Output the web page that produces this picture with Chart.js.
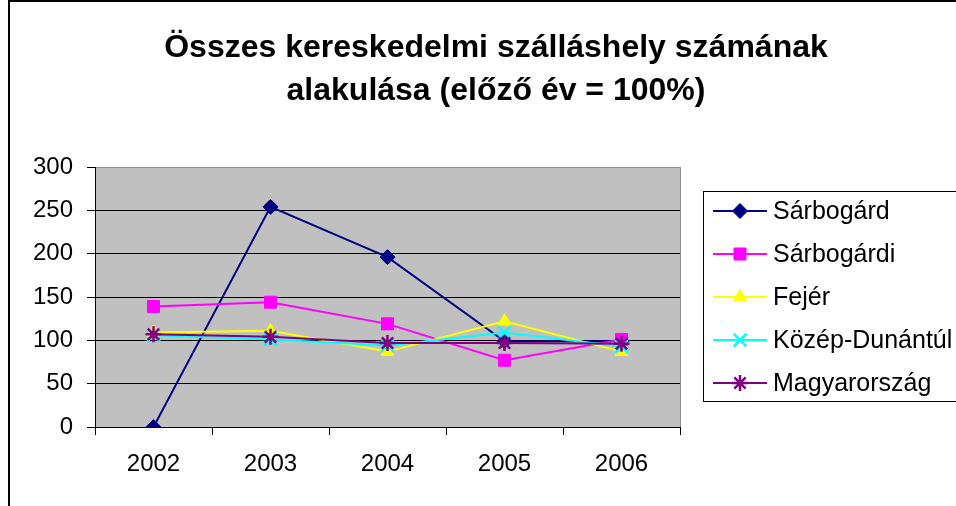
<!DOCTYPE html>
<html>
<head>
<meta charset="utf-8">
<script src="https://cdn.jsdelivr.net/npm/chart.js@4/dist/chart.umd.min.js"></script>
<style>
  body { margin: 0; background: #fff; }
  canvas { display: block; }
</style>
</head>
<body>
<canvas id="chart" width="956" height="506"></canvas>
<script>
const years = ['2002', '2003', '2004', '2005', '2006']
const yTicks = [0, 50, 100, 150, 200, 250, 300]
const titleLines = ['Összes kereskedelmi szálláshely számának', 'alakulása (előző év = 100%)']

const seriesNames = ['Sárbogárd', 'Sárbogárdi', 'Fejér', 'Közép-Dunántúl', 'Magyarország']
const sarbogard = [0, 254, 196, 99, 99]
const sarbogardi = [139, 144, 119, 77, 101]
const fejer = [109, 111, 87, 122, 87]
const kozepDunantul = [106, 101, 94, 109, 93]
const magyarorszag = [107, 104, 97, 97, 96]

const colors = ['#000080', '#FF00FF', '#FFFF00', '#00FFFF', '#800080']
const markers = ['rectRot', 'rect', 'triangle', 'crossRot', 'star']
const FONT = "'Liberation Sans', Arial, sans-serif"

const values = [sarbogard, sarbogardi, fejer, kozepDunantul, magyarorszag]

const radiusFor = m => ({ rectRot: 7.5, rect: 8.5, triangle: 7.5, crossRot: 9, star: 8 }[m])

const datasets = values.map((data, i) => ({
  label: seriesNames[i],
  data,
  borderColor: colors[i],
  backgroundColor: colors[i],
  borderWidth: 2,
  pointStyle: markers[i],
  pointRadius: radiusFor(markers[i]),
  pointBorderWidth: markers[i] === 'crossRot' || markers[i] === 'star' ? 2.5 : 1,
  tension: 0,
  order: 5 - i,
}))

// grey plot area, title, frame and the hand made legend box
const excelLook = {
  id: 'excelLook',
  beforeDraw(chart) {
    const { ctx, chartArea: a } = chart
    ctx.save()
    ctx.fillStyle = '#C0C0C0'
    ctx.fillRect(a.left, a.top, a.right - a.left, a.bottom - a.top)
    ctx.restore()
  },
  afterDraw(chart) {
    const { ctx, chartArea: a } = chart
    ctx.save()
    // right edge of the plot
    ctx.strokeStyle = '#909090'
    ctx.lineWidth = 1
    ctx.beginPath()
    ctx.moveTo(a.right + 0.5, a.top)
    ctx.lineTo(a.right + 0.5, a.bottom)
    ctx.stroke()

    // title
    ctx.fillStyle = '#000'
    ctx.font = 'bold 32px ' + FONT
    ctx.textAlign = 'center'
    ctx.textBaseline = 'middle'
    titleLines.forEach((t, i) => ctx.fillText(t, 496, 48 + 43 * i))

    // outer chart frame (cut at right/bottom)
    ctx.strokeStyle = '#000'
    ctx.lineWidth = 2
    ctx.beginPath()
    ctx.moveTo(9, 506)
    ctx.lineTo(9, 1)
    ctx.lineTo(956, 1)
    ctx.stroke()

    // legend
    ctx.lineWidth = 1
    ctx.strokeRect(703.5, 191.5, 300, 210)
    chart.data.datasets.forEach((ds, i) => {
      const y = 211 + 43 * i
      ctx.strokeStyle = ds.borderColor
      ctx.lineWidth = 2
      ctx.beginPath()
      ctx.moveTo(713, y)
      ctx.lineTo(767, y)
      ctx.stroke()
      ctx.fillStyle = ds.backgroundColor
      ctx.lineWidth = ds.pointBorderWidth
      Chart.helpers.drawPoint(ctx, {
        pointStyle: ds.pointStyle,
        radius: ds.pointRadius,
        rotation: 0,
        borderWidth: ds.pointBorderWidth,
      }, 740, y)
      ctx.fillStyle = '#000'
      ctx.font = '25px ' + FONT
      ctx.textBaseline = 'middle'
      ctx.textAlign = 'left'
      ctx.fillText(ds.label, 773, y + 1)
    })
    ctx.restore()
  },
}

new Chart(document.getElementById('chart'), {
  type: 'line',
  data: { labels: years, datasets },
  plugins: [excelLook],
  options: {
    responsive: false,
    animation: false,
    layout: { padding: { left: 0, right: 276, top: 167, bottom: 0 } },
    plugins: {
      legend: { display: false },
      tooltip: { enabled: false },
      title: { display: false },
    },
    scales: {
      x: {
        offset: true,
        grid: { offset: true, drawOnChartArea: false, color: '#000', tickLength: 8 },
        border: { color: '#000', width: 1 },
        ticks: { color: '#000', font: { family: FONT, size: 24 }, padding: 15, maxRotation: 0 },
        afterFit: s => { s.height = 79 },
      },
      y: {
        min: 0,
        max: 300,
        afterBuildTicks: s => { s.ticks = yTicks.map(v => ({ value: v })) },
        grid: {
          color: c => (c.tick && c.tick.value === 300 ? '#909090' : '#000'),
          tickColor: '#000',
          tickLength: 8,
        },
        border: { color: '#000', width: 1 },
        ticks: { color: '#000', font: { family: FONT, size: 24 }, padding: 14 },
        afterFit: s => { s.width = 95 },
      },
    },
  },
})
</script>
</body>
</html>
